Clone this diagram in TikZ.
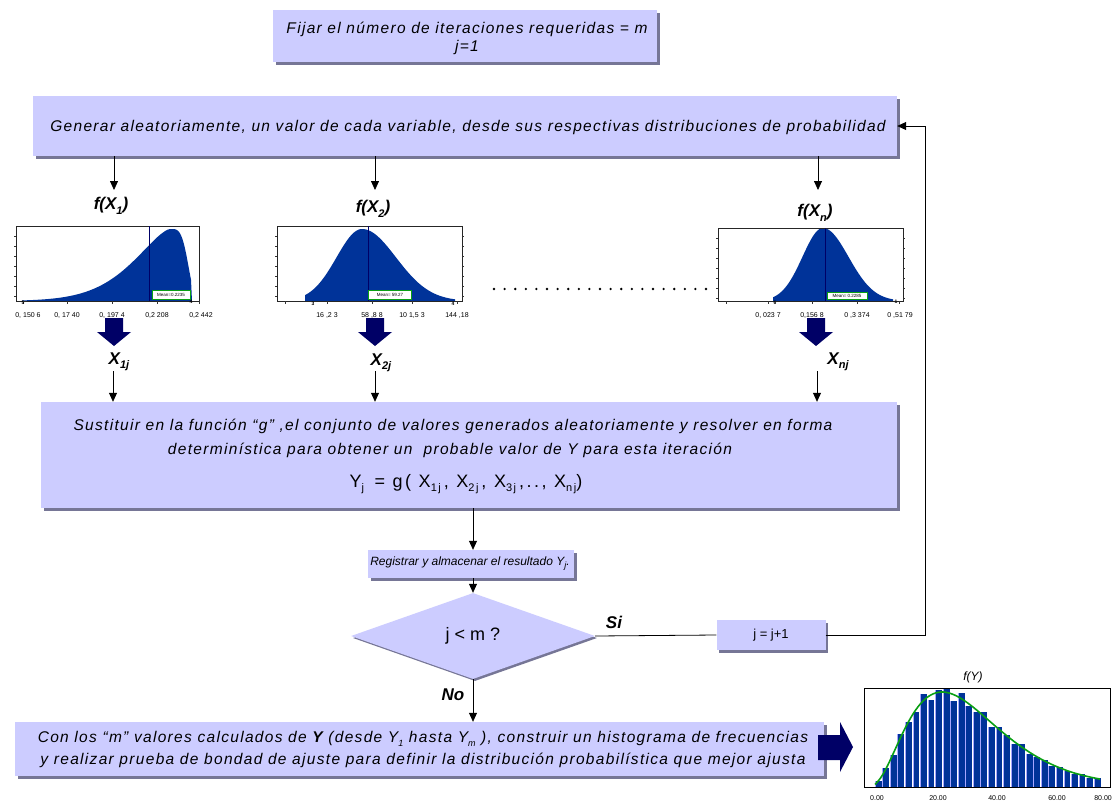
\documentclass[tikz,border=0pt]{standalone}
\usepackage{fontspec}
\setmainfont{Liberation Sans}
\newfontfamily\spaced[LetterSpace=8.5]{Liberation Sans}
\newfontfamily\wide[LetterSpace=14]{Liberation Sans}
\usetikzlibrary{shapes.geometric,shadows,arrows.meta}
\definecolor{boxfill}{RGB}{204,204,255}
\definecolor{shadowc}{RGB}{118,118,150}
\definecolor{histblue}{RGB}{0,51,153}
\definecolor{navy}{RGB}{0,0,102}
\definecolor{fitgreen}{RGB}{10,160,20}
\newcommand\lowsub[1]{\raisebox{-0.45ex}{\fontsize{9}{9}\selectfont #1}}
\newcommand\bigsub[1]{\raisebox{-0.5ex}{\fontsize{11}{11}\selectfont #1}}
\tikzset{
  box/.style={fill=boxfill, inner sep=0pt, drop shadow={shadow xshift=2.5pt,shadow yshift=-2.5pt,fill=shadowc,opacity=1}},
  txt/.style={font=\spaced\itshape\fontsize{15.5}{18}\selectfont, inner sep=0pt, align=center},
  arr/.style={-{Triangle[length=9pt,width=8pt]}, line width=0.8pt},
  lbl/.style={font=\bfseries\itshape\fontsize{17}{20}\selectfont, inner sep=1pt},
  axl/.style={font=\fontsize{7}{8}\selectfont, inner sep=0pt},
  tiny/.style={font=\bfseries\fontsize{5}{5}\selectfont, inner sep=0pt},
  hframe/.style={draw=black!85, line width=0.6pt},
  meanbox/.style={draw=fitgreen, fill=white, line width=0.8pt, font=\fontsize{4.5}{5}\selectfont, inner sep=0pt},
}
\begin{document}
\begin{tikzpicture}[x=1pt,y=-1pt]
\useasboundingbox (0,0) rectangle (1113,806);
\fill[white] (0,0) rectangle (1113,806);

% ---------- boxes ----------
\node[box, minimum width=384pt, minimum height=52pt] (top) at (465,36) {};
\node[txt] (toptxt) at (467,38) {Fijar el número de iteraciones requeridas = m\\ j=1};

\node[box, minimum width=864pt, minimum height=60pt] (gen) at (465,126) {};
\node[txt] (gentxt) at (468,127) {Generar aleatoriamente, un valor de cada variable, desde sus respectivas distribuciones de probabilidad};

\coordinate (fb) at (925,126);

% ---------- labels f(X) ----------
\node[lbl] (f1) at (111,206) {f(X\bigsub{1})};
\node[lbl] (f2) at (373,209) {f(X\bigsub{2})};
\node[lbl] (fn) at (815,213) {f(X\bigsub{n})};
\coordinate (a1) at (114,190);
\coordinate (a2) at (375,190);
\coordinate (an) at (818,190);
\draw[arr] (gen.south -| a1) -- (a1);
\draw[arr] (gen.south -| a2) -- (a2);
\draw[arr] (gen.south -| an) -- (an);

% ---------- histogram 1 ----------
\fill[histblue] (22,301) -- plot[domain=22:170, samples=60] (\x,{301-72*exp(-(abs(170-\x)/52)^1.5)})
   -- plot[domain=170:191, samples=20] (\x,{301-72*exp(-(abs(\x-170)/20)^4)}) -- (192,301) -- cycle;
\draw[hframe] (16,226) rectangle (199,301);
\draw[navy, line width=0.9pt] (149,226) -- (149,301);
\node[meanbox, minimum width=38pt, minimum height=9pt] (m1) at (171,295) {Mean=0.2235};
\foreach \yy in {236,246,256,266,276,286,296} \draw[black!80] (14,\yy) -- (16,\yy);
\foreach \xx in {23,67,112,157,199} \draw[black!80] (\xx,301) -- (\xx,304);
\node[tiny] (k1a) at (23,303) {5};
\node[tiny] (k1b) at (191,302) {4};
\node[axl] (l1a) at (28,315) {0, 150 6};
\node[axl] (l1b) at (67,315) {0, 17 40};
\node[axl] (l1c) at (112,315) {0, 197 4};
\node[axl] (l1d) at (157,315) {0,2 208};
\node[axl] (l1e) at (201,315) {0,2 442};

% ---------- histogram 2 ----------
\fill[histblue] (305,301) -- plot[domain=305:362, samples=40] (\x,{301-72*exp(-(abs(362-\x)/36)^2)})
   -- plot[domain=362:455, samples=50] (\x,{301-72*exp(-(abs(\x-362)/48)^2)}) -- (455,301) -- cycle;
\draw[hframe] (277,226) rectangle (462,301);
\draw[navy, line width=0.9pt] (368,226) -- (368,301);
\node[meanbox, minimum width=43pt, minimum height=9pt] (m2) at (390,295) {Mean= 59.27};
\foreach \yy in {236,246,256,266,276,286,296} {\draw[black!80] (275,\yy) -- (277,\yy); \draw[black!80] (462,\yy) -- (464,\yy);}
\foreach \xx in {285,327,372,412,457} \draw[black!80] (\xx,301) -- (\xx,304);
\node[tiny] (k2a) at (313,304) {3};
\node[tiny] (k2b) at (453,304) {4};
\node[axl] (l2a) at (327,315) {16 ,2 3};
\node[axl] (l2b) at (372,315) {58 ,8 8};
\node[axl] (l2c) at (412,315) {10 1,5 3};
\node[axl] (l2d) at (457,315) {144 ,18};

% ---------- histogram n ----------
\fill[histblue] (773,301) -- plot[domain=773:823, samples=40] (\x,{301-73*exp(-(abs(823-\x)/29)^2)})
   -- plot[domain=823:893, samples=50] (\x,{301-73*exp(-(abs(\x-823)/36)^2)}) -- (893,301) -- cycle;
\draw[hframe] (718,228) rectangle (903,301);
\draw[navy, line width=0.9pt] (825,228) -- (825,301);
\node[meanbox, minimum width=40pt, minimum height=7pt] (m3) at (847,296) {Mean= 0.2285};
\foreach \yy in {238,248,258,268,278,288,298} {\draw[black!80] (716,\yy) -- (718,\yy); \draw[black!80] (903,\yy) -- (905,\yy);}
\foreach \xx in {726,768,812,857,899} \draw[black!80] (\xx,301) -- (\xx,304);
\node[tiny] (k3a) at (775,303) {6};
\node[tiny] (k3b) at (896,302) {1};
\node[axl] (l3a) at (768,315) {0, 023 7};
\node[axl] (l3b) at (812,315) {0,156 8};
\node[axl] (l3c) at (857,315) {0 ,3 374};
\node[axl] (l3d) at (900,315) {0 ,51 79};

% dotted line
\draw[line width=2.6pt, line cap=round, dash pattern=on 0pt off 10.6pt] (494,289) -- (706,289);

% ---------- block arrows down ----------
\foreach \c in {114,375,816}
  \fill[navy] (\c-9,318) -- (\c+9,318) -- (\c+9,332) -- (\c+17,332) -- (\c,346) -- (\c-17,332) -- (\c-9,332) -- cycle;

% ---------- X labels ----------
\node[lbl] (x1) at (119,362) {X\bigsub{1j}};
\node[lbl] (x2) at (381,363) {X\bigsub{2j}};
\node[lbl] (xn) at (838,362) {X\bigsub{nj}};
\coordinate (t1) at (113,371);
\coordinate (t2) at (375,371);
\coordinate (tn) at (817,371);

% ---------- substitution box ----------
\node[box, minimum width=856pt, minimum height=106pt] (sub) at (469,455) {};
\draw[arr] (t1) -- (t1 |- sub.north);
\draw[arr] (t2) -- (t2 |- sub.north);
\draw[arr] (tn) -- (tn |- sub.north);
\node[txt] (s1) at (453,426) {Sustituir en la función “g” ,el conjunto de valores generados aleatoriamente y resolver en forma};
\node[txt] (s2) at (450,450) {determinística para obtener un \ probable valor de Y para esta iteración};
\node[inner sep=0pt, font=\wide\fontsize{18}{20}\selectfont] (s3) at (466,484)
  {Y\bigsub{j} \,= g( X\bigsub{1j}\,, X\bigsub{2j}\,, X\bigsub{3j}\,,.., X\bigsub{nj})};

% ---------- register box ----------
\node[box, minimum width=206pt, minimum height=28pt] (reg) at (471,564) {};
\node[inner sep=0pt, font=\itshape\fontsize{12}{14}\selectfont] (regtxt) at (470,564) {Registrar y almacenar el resultado Y\lowsub{j}.};

% ---------- decision ----------
\node[diamond, fill=boxfill, minimum width=244pt, minimum height=86pt, inner sep=0pt,
      drop shadow={shadow xshift=2pt,shadow yshift=-2pt,fill=shadowc,opacity=1},
      font=\fontsize{18}{20}\selectfont] (dia) at (473,636) {j < m ?};
\draw[arr] (sub.south -| dia.north) -- (reg.north -| dia.north);
\draw[arr] (reg.south -| dia.north) -- (dia.north);

\node[box, minimum width=109pt, minimum height=30pt, font=\fontsize{13}{15}\selectfont] (jb) at (771,635) {j = j+1};
\draw[line width=0.8pt] (dia.east) -- (jb.west);
\draw[arr] (jb.east) -| (fb) -- (gen.east);
\node[lbl] (si) at (614,622) {Si};

% ---------- final box ----------
\node[box, minimum width=809pt, minimum height=54pt] (fin) at (419.5,749) {};
\node[txt] (fin1) at (423,739) {Con los “m” valores calculados de \textbf{Y} (desde Y\lowsub{1} hasta Y\lowsub{m} ), construir un histograma de frecuencias};
\node[txt] (fin2) at (423,760) {y realizar prueba de bondad de ajuste para definir la distribución probabilística que mejor ajusta};
\draw[arr] (dia.south) -- (dia.south |- fin.north);
\node[lbl] (no) at (453,695) {No};

\fill[navy] (818,735) -- (840,735) -- (840,722) -- (853,747) -- (840,772) -- (840,760) -- (818,760) -- cycle;

% ---------- f(Y) histogram ----------
\foreach \i in {0,...,29} {
  \pgfmathsetmacro\bx{875+\i*7.55}
  \pgfmathsetmacro\tt{max(\bx+3.5-868,0.1)/74}
  \pgfmathsetmacro\hh{95*(\tt^2.5)*exp(2.5*(1-\tt))*(1+0.07*sin(\i*137))}
  \fill[histblue] (\bx,787) rectangle (\bx+6.6,787-\hh);
  \draw[white!65!blue, line width=0.5pt] (\bx,787) -- (\bx,787-\hh);
}
\draw[fitgreen, line width=1.6pt] plot[domain=875:1100, samples=90, smooth]
   (\x,{787-95*(((\x-868)/74)^2.5)*exp(2.5*(1-(\x-868)/74))});
\draw[black, line width=0.7pt] (864,688) rectangle (1110,787);
\node[inner sep=0pt, font=\itshape\fontsize{12}{14}\selectfont] (fy) at (973,677) {f(Y)};
\node[axl] (ya) at (877,798) {0.00};
\node[axl] (yb) at (938,798) {20.00};
\node[axl] (yc) at (997,798) {40.00};
\node[axl] (yd) at (1057,798) {60.00};
\node[axl, anchor=east] (ye) at (1112,798) {80.00};
\end{tikzpicture}
\end{document}
